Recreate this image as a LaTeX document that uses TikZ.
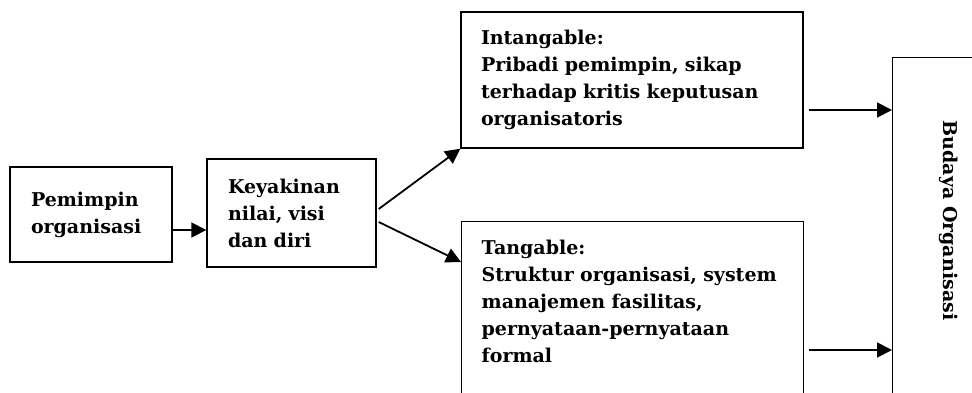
\documentclass[tikz,border=0pt]{standalone}
\usepackage{fontspec}
\setmainfont{DejaVu Serif}
\usepackage{tikz}
\usetikzlibrary{arrows.meta}
\hyphenpenalty=10000
\tikzset{ flow_text/.style = {font=\fontsize{19}{27}\selectfont\bfseries} }
\tikzset{ flow_box/.style = {rectangle, draw, line width=1.4pt, align=left, flow_text} }
\tikzset{ flow_arrow/.style = {line width=1.8pt, -{Triangle[length=15pt, width=15pt]}} }

\begin{document}
\begin{tikzpicture}[x=1pt, y=-1pt]
    \useasboundingbox (0, 0) rectangle (972, 392);
    \clip (0, 0) rectangle (972, 392);
    \node[flow_box, minimum width=162pt, minimum height=95pt, text width=120pt] (pemimpin) at (91, 214.5) {Pemimpin\\organisasi};
    \node[flow_box, minimum width=169pt, minimum height=108pt, text width=127pt] (keyakinan) at (291.5, 213) {Keyakinan\\nilai, visi\\dan diri};
    \node[flow_box, minimum width=342pt, minimum height=136pt, text width=302pt] (intangable) at (632, 80) {Intangable:\\Pribadi pemimpin, sikap\\terhadap kritis keputusan\\organisatoris};
    \node[flow_box, anchor=north west, inner xsep=20pt, inner ysep=19pt, text width=302pt, text height=14pt, text depth=160pt] (tangable) at (461, 221) {Tangable:\\Struktur organisasi, system\\manajemen fasilitas,\\pernyataan-pernyataan\\formal};
    \node[flow_box, anchor=north west, minimum width=140pt, minimum height=380pt] (budaya) at (892, 57) {};
    \node[flow_text, rotate=-90] (budaya_label) at (949, 220.5) {Budaya Organisasi};
    \draw[flow_arrow] ([shift={(0, 15.5)}]pemimpin.east) coordinate (p_out) to (p_out -| keyakinan.west);
    \draw[flow_arrow] ([shift={(2, -4)}]keyakinan.east) to (intangable.south west);
    \draw[flow_arrow] ([shift={(2, 9)}]keyakinan.east) to ([shift={(0, 41)}]tangable.north west);
    \draw[flow_arrow] ([shift={(5, 30)}]intangable.east) coordinate (i_out) to (i_out -| budaya.west);
    \draw[flow_arrow] ([shift={(5, 129)}]tangable.north east) coordinate (t_out) to (t_out -| budaya.west);
\end{tikzpicture}
\end{document}
